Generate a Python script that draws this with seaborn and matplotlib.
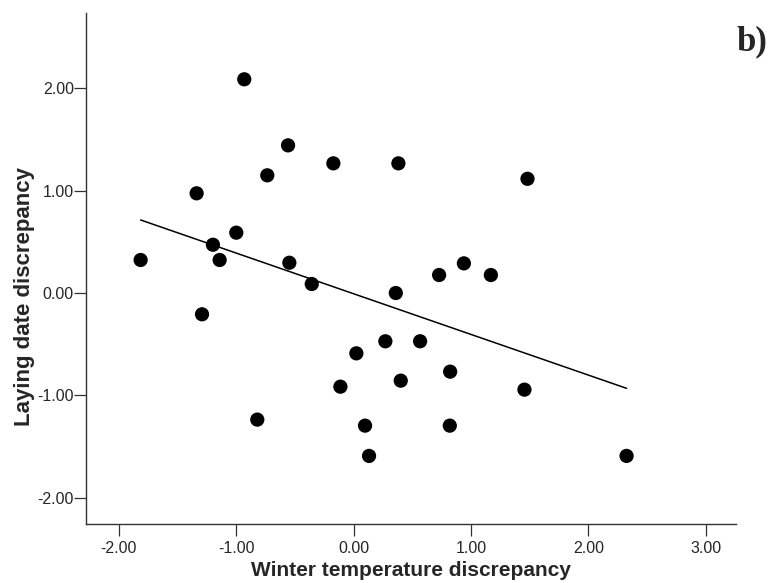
import matplotlib
matplotlib.use("Agg")
import matplotlib.pyplot as plt
import seaborn as sns
import pandas as pd

# winter temperature discrepancy (x) vs laying date discrepancy (y)
winter_temp = [-1.815, -1.338, -1.199, -1.142, -1.292, -1.000, -0.932, -0.736,
               -0.821, -0.559, -0.548, -0.357, -0.173, -0.113, 0.023, 0.097,
               0.131, 0.270, 0.381, 0.359, 0.401, 0.566, 0.728, 0.822,
               0.819, 0.939, 1.169, 1.481, 1.455, 2.325]
laying_date = [0.323, 0.975, 0.472, 0.323, -0.208, 0.590, 2.090, 1.151,
               -1.238, 1.444, 0.296, 0.088, 1.268, -0.916, -0.590, -1.297,
               -1.593, -0.472, 1.268, 0.000, -0.857, -0.472, 0.176, -0.769,
               -1.297, 0.290, 0.176, 1.117, -0.945, -1.593]
x_ticks = [-2, -1, 0, 1, 2, 3]
y_ticks = [-2, -1, 0, 1, 2]

df = pd.DataFrame({"winter": winter_temp, "laying": laying_date})

sns.set_style("ticks")
plt.rcParams["font.family"] = ["Liberation Sans", "DejaVu Sans"]

fig = plt.figure(figsize=(7.71, 5.83), dpi=100)
ax = fig.add_axes([0.111, 0.101, 0.844, 0.877])

sns.regplot(data=df, x="winter", y="laying", ax=ax, ci=None,
            scatter_kws=dict(s=105, color="black", edgecolor="none", alpha=1),
            line_kws=dict(color="black", lw=1.1))

ax.set_xlim(-2.284, 3.26)
ax.set_ylim(-2.26, 2.74)
ax.set_xticks(x_ticks)
ax.set_yticks(y_ticks)
ax.set_xticklabels([f"{v:.2f}" for v in x_ticks])
ax.set_yticklabels([f"{v:.2f}" for v in y_ticks])
ax.tick_params(axis="both", length=8.5, width=0.9, color="#333333", labelsize=11.5)
ax.tick_params(axis="y", pad=0)
ax.tick_params(axis="x", pad=4)
for side in ["left", "bottom"]:
    ax.spines[side].set_linewidth(1.0)
    ax.spines[side].set_color("#333333")
sns.despine(ax=ax)

ax.set_xlabel("Winter temperature discrepancy", fontsize=15, fontweight="bold")
ax.set_ylabel("Laying date discrepancy", fontsize=16, fontweight="bold")
ax.xaxis.set_label_coords(0.5, -0.072)
ax.yaxis.set_label_coords(-0.078, 0.445)

fig.text(0.995, 0.928, "b)", ha="right", va="center", fontsize=25,
         fontweight="bold", family=["Liberation Serif", "DejaVu Serif"])

fig.savefig("out.png", dpi=100)
